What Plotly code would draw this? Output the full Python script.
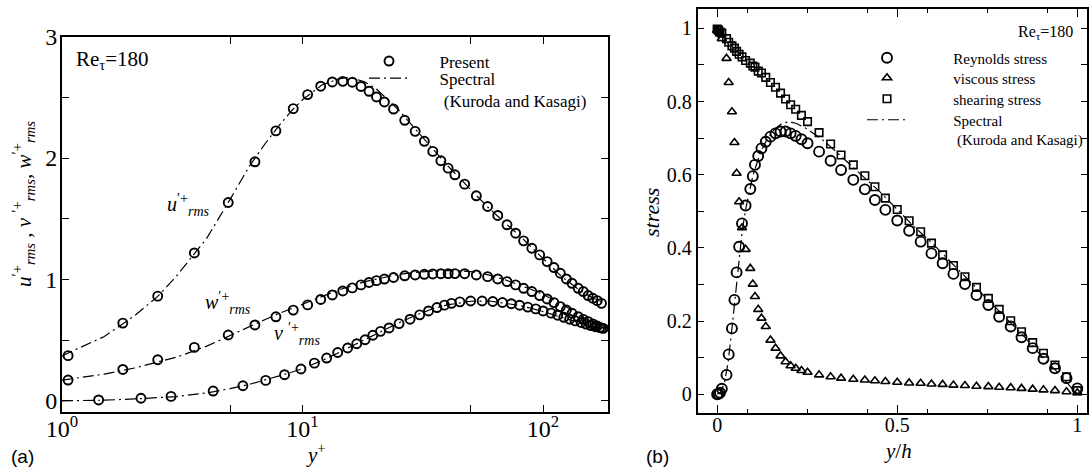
import plotly.graph_objects as go

W, H = 1091, 467
SERIF = "Liberation Serif"
SANS = "Liberation Sans"

# ---------------- Panel (a): rms velocity fluctuations ----------------
yplus_c = [1.06, 1.79, 2.50, 3.55, 4.91, 6.34, 7.75, 9.15, 10.5, 11.9, 13.3, 14.7, 16.1, 17.5,
           18.9, 20.3, 21.9, 23.9, 26.6, 29.4, 32.1, 34.8, 37.6, 40.3, 43.0, 47.2, 52.8, 58.8,
           64.8, 70.8, 76.9, 83.0, 89.8, 96.8, 104, 111, 118, 125, 132, 140, 147, 154, 161, 168, 175]
u_rms = [0.372, 0.640, 0.862, 1.218, 1.634, 1.969, 2.224, 2.407, 2.523, 2.592, 2.627, 2.632, 2.625,
         2.590, 2.550, 2.503, 2.462, 2.404, 2.311, 2.220, 2.138, 2.055, 1.978, 1.917, 1.862, 1.785,
         1.689, 1.601, 1.527, 1.450, 1.381, 1.318, 1.257, 1.202, 1.147, 1.098, 1.051, 1.004, 0.968,
         0.927, 0.900, 0.867, 0.845, 0.825, 0.803]
w_rms = [0.171, 0.258, 0.338, 0.440, 0.542, 0.625, 0.692, 0.747, 0.790, 0.835, 0.872, 0.905, 0.930,
         0.955, 0.975, 0.990, 1.003, 1.016, 1.030, 1.037, 1.042, 1.045, 1.047, 1.048, 1.048, 1.047,
         1.037, 1.023, 1.004, 0.982, 0.955, 0.927, 0.900, 0.867, 0.839, 0.809, 0.776, 0.748, 0.721,
         0.693, 0.671, 0.652, 0.633, 0.616, 0.600]
yplus_f = [1.42, 2.13, 2.84, 4.25, 5.65, 7.03, 8.42, 9.85, 11.2, 12.6, 14.0, 15.4, 16.8, 18.2, 19.6,
           21.1, 22.9, 25.2, 28.0, 30.7, 33.4, 36.2, 38.9, 41.6, 45.1, 50.0, 55.8, 61.8, 67.8, 73.8,
           79.9, 86.4, 93.3, 100, 108, 115, 122, 129, 136, 144, 151, 158, 165, 172, 178]
v_rms = [0.007, 0.021, 0.036, 0.080, 0.124, 0.168, 0.215, 0.262, 0.310, 0.352, 0.398, 0.435, 0.470,
         0.503, 0.540, 0.572, 0.600, 0.636, 0.672, 0.708, 0.740, 0.768, 0.788, 0.803, 0.815, 0.822,
         0.822, 0.818, 0.810, 0.800, 0.787, 0.772, 0.757, 0.740, 0.722, 0.705, 0.688, 0.672, 0.658,
         0.645, 0.632, 0.620, 0.610, 0.603, 0.597]

spec_yplus = [1.0, 1.5, 2.0, 2.5, 3.0, 4.0, 5.0, 6.0, 7.0, 8.0, 9.0, 10, 12, 14, 15, 16, 18, 20, 25,
              30, 35, 40, 50, 60, 70, 80, 90, 100, 120, 140, 160, 178]
spec_u = [0.37, 0.53, 0.70, 0.86, 1.03, 1.34, 1.66, 1.93, 2.12, 2.27, 2.39, 2.48, 2.60, 2.65, 2.66,
          2.66, 2.63, 2.58, 2.40, 2.22, 2.07, 1.94, 1.74, 1.58, 1.46, 1.36, 1.26, 1.17, 1.02, 0.92,
          0.85, 0.81]
spec_w = [0.17, 0.22, 0.27, 0.32, 0.36, 0.45, 0.54, 0.61, 0.67, 0.72, 0.76, 0.80, 0.86, 0.91, 0.93,
          0.95, 0.98, 1.00, 1.04, 1.06, 1.07, 1.075, 1.065, 1.035, 0.995, 0.955, 0.915, 0.875,
          0.795, 0.715, 0.645, 0.600]
spec_v = [0.000, 0.005, 0.015, 0.025, 0.035, 0.065, 0.100, 0.135, 0.170, 0.205, 0.235, 0.265, 0.330,
          0.390, 0.420, 0.450, 0.500, 0.550, 0.640, 0.710, 0.760, 0.790, 0.820, 0.822, 0.805, 0.785,
          0.760, 0.735, 0.685, 0.645, 0.612, 0.598]

# ---------------- Panel (b): stress balance ----------------
y_h = [0.000, 0.004, 0.008, 0.013, 0.026, 0.032, 0.041, 0.048, 0.054, 0.061, 0.069, 0.079, 0.092,
       0.099, 0.105, 0.114, 0.123, 0.135, 0.148, 0.162, 0.176, 0.190, 0.204, 0.218, 0.234, 0.251,
       0.283, 0.315, 0.344, 0.378, 0.410, 0.438, 0.467, 0.500, 0.533, 0.565, 0.595, 0.626, 0.656,
       0.688, 0.720, 0.753, 0.783, 0.815, 0.845, 0.876, 0.906, 0.938, 0.970, 1.000]
reynolds = [0.000, 0.001, 0.004, 0.015, 0.053, 0.109, 0.180, 0.258, 0.333, 0.403, 0.467, 0.516,
            0.561, 0.596, 0.627, 0.651, 0.672, 0.690, 0.704, 0.713, 0.718, 0.718, 0.713, 0.706,
            0.697, 0.686, 0.663, 0.638, 0.613, 0.586, 0.560, 0.531, 0.504, 0.475, 0.447, 0.417,
            0.385, 0.358, 0.329, 0.301, 0.271, 0.244, 0.212, 0.185, 0.156, 0.126, 0.097, 0.071,
            0.044, 0.016]
viscous = [0.995, 0.990, 0.985, 0.972, 0.918, 0.852, 0.772, 0.688, 0.604, 0.526, 0.455, 0.396,
           0.344, 0.301, 0.267, 0.232, 0.208, 0.185, 0.148, 0.126, 0.105, 0.089, 0.078, 0.071,
           0.065, 0.060, 0.053, 0.048, 0.044, 0.041, 0.039, 0.037, 0.035, 0.033, 0.031, 0.030,
           0.028, 0.027, 0.025, 0.024, 0.022, 0.021, 0.019, 0.018, 0.016, 0.014, 0.012, 0.010,
           0.007, 0.004]
shearing = [0.998, 0.995, 0.990, 0.987, 0.972, 0.962, 0.952, 0.946, 0.937, 0.929, 0.922, 0.912,
            0.905, 0.897, 0.894, 0.883, 0.878, 0.866, 0.852, 0.839, 0.823, 0.807, 0.791, 0.779,
            0.762, 0.745, 0.715, 0.684, 0.654, 0.627, 0.597, 0.567, 0.536, 0.505, 0.474, 0.444,
            0.413, 0.381, 0.352, 0.321, 0.292, 0.262, 0.232, 0.201, 0.171, 0.141, 0.112, 0.080,
            0.048, 0.010]
spec_yh = [0.0, 0.01, 0.02, 0.03, 0.04, 0.05, 0.06, 0.07, 0.08, 0.09, 0.10, 0.12, 0.14, 0.16, 0.18,
           0.20, 0.22, 0.25, 0.30, 0.35, 0.40, 0.45, 0.50, 0.55, 0.60, 0.65, 0.70, 0.75, 0.80, 0.85,
           0.90, 0.95, 1.0]
spec_rey = [0.0, 0.006, 0.030, 0.085, 0.170, 0.270, 0.370, 0.450, 0.510, 0.560, 0.600, 0.660, 0.700,
            0.725, 0.740, 0.745, 0.740, 0.725, 0.690, 0.645, 0.600, 0.555, 0.505, 0.455, 0.410,
            0.360, 0.310, 0.260, 0.210, 0.160, 0.105, 0.055, 0.0]

left_yticks = [0, 1, 2, 3]
left_yticktext = ["0", "1", "2", "3"]
left_yminor = [0.5, 1.5, 2.5]
left_xticks = [1, 10, 100]
left_xticktext = ["10<sup>0</sup>", "10<sup>1</sup>", "10<sup>2</sup>"]
left_xminor = [5, 50]
right_yticks = [0, 0.2, 0.4, 0.6, 0.8, 1.0]
right_yticktext = ["0", "0.2", "0.4", "0.6", "0.8", "1"]
right_yminor = [0.1, 0.3, 0.5, 0.7, 0.9]
right_xticks = [0, 0.5, 1]
right_xticktext = ["0", "0.5", "1"]
right_xmid = [1/6, 2/6, 4/6, 5/6]
right_xminor = [1/12, 3/12, 5/12, 7/12, 9/12, 11/12]

NB = "\u00a0"
DASHDOT = "11px,4px,2px,4px"
BLACK = "black"

fig = go.Figure()

def circ(size=9):
    return dict(symbol="circle-open", size=size, color=BLACK, line=dict(width=1.9, color=BLACK))

left_spec_name = NB * 6 + "Spectral<br>" + NB * 7 + "(Kuroda and Kasagi)"
for ys, name, show in [(spec_u, left_spec_name, True), (spec_w, "", False), (spec_v, "", False)]:
    fig.add_trace(go.Scatter(x=spec_yplus, y=ys, mode="lines", name=name, showlegend=show,
                             legend="legend3",
                             line=dict(color=BLACK, width=1.2, dash=DASHDOT), xaxis="x", yaxis="y"))
fig.add_trace(go.Scatter(x=yplus_c, y=u_rms, mode="markers", name=NB * 6 + "Present", legend="legend",
                         marker=circ(), xaxis="x", yaxis="y"))
fig.add_trace(go.Scatter(x=yplus_c, y=w_rms, mode="markers", showlegend=False, marker=circ(), xaxis="x", yaxis="y"))
fig.add_trace(go.Scatter(x=yplus_f, y=v_rms, mode="markers", showlegend=False, marker=circ(), xaxis="x", yaxis="y"))

# right panel
RP = NB * 11
fig.add_trace(go.Scatter(x=spec_yh, y=spec_rey, mode="lines",
                         name=RP + "Spectral<br>" + RP + NB + "(Kuroda and Kasagi)",
                         legend="legend7",
                         line=dict(color=BLACK, width=1.2, dash=DASHDOT), xaxis="x2", yaxis="y2"))
fig.add_trace(go.Scatter(x=y_h, y=reynolds, mode="markers", name=RP + "Reynolds stress", legend="legend4",
                         marker=circ(10), xaxis="x2", yaxis="y2"))
fig.add_trace(go.Scatter(x=y_h, y=viscous, mode="markers", name=RP + "viscous stress", legend="legend5",
                         marker=dict(symbol="triangle-up-open", size=8, color=BLACK, line=dict(width=1.6)),
                         xaxis="x2", yaxis="y2"))
fig.add_trace(go.Scatter(x=y_h, y=shearing, mode="markers", name=RP + "shearing stress", legend="legend6",
                         marker=dict(symbol="square-open", size=7.5, color=BLACK, line=dict(width=1.6)),
                         xaxis="x2", yaxis="y2"))

def px(x):
    return x / W

def py(y):
    return 1 - y / H

def leg(x, top, size):
    return dict(x=px(x), y=py(top), xanchor="left", yanchor="top", bgcolor="rgba(0,0,0,0)",
                font=dict(size=size, family=SERIF), tracegroupgap=0, itemwidth=40, valign="top")

def minor(vals, length):
    return dict(tickmode="array", tickvals=vals, ticklen=length, ticks="inside",
                tickcolor=BLACK, tickwidth=1.3, showgrid=False)

axis_common = dict(showline=True, linecolor=BLACK, linewidth=1.8, mirror="allticks", ticks="inside",
                   tickcolor=BLACK, tickwidth=1.3, showgrid=False, zeroline=False, automargin=False,
                   tickmode="array")

fig.update_layout(
    template="none",
    width=W, height=H, margin=dict(l=0, r=0, t=0, b=0, pad=0, autoexpand=False),
    paper_bgcolor="white", plot_bgcolor="white",
    font=dict(family=SERIF, color=BLACK),
    xaxis=dict(axis_common, type="log", range=[0, 2.27], domain=[px(62), px(608)],
               tickvals=left_xticks, ticktext=left_xticktext, ticklen=7, ticklabelstandoff=-5,
               minor=minor(left_xminor, 7),
               tickfont=dict(size=24, family=SERIF), anchor="y"),
    yaxis=dict(axis_common, range=[-0.09, 3.0], domain=[py(411.7), py(36.7)],
               tickvals=left_yticks, ticktext=left_yticktext, ticklen=7, ticklabelstandoff=-2,
               minor=minor(left_yminor, 7),
               tickfont=dict(size=24, family=SERIF), anchor="x"),
    xaxis2=dict(axis_common, range=[-0.054, 1.026], domain=[px(697.7), px(1086.7)],
                tickvals=right_xticks, ticktext=right_xticktext, ticklen=8, ticklabelstandoff=-7,
                minor=minor(right_xminor, 4),
                tickfont=dict(size=20, family=SERIF), anchor="y2"),
    yaxis2=dict(axis_common, range=[-0.052, 1.052], domain=[py(413.3), py(9.3)],
                tickvals=right_yticks, ticktext=right_yticktext, ticklen=6,
                minor=minor(right_yminor, 6),
                tickfont=dict(size=20, family=SERIF), anchor="x2"),
    # invisible-label companion axis carrying the longer 1/6 ticks of panel (b)
    xaxis3=dict(showline=False, ticks="inside", ticklen=8, tickwidth=1.3, tickcolor=BLACK,
                mirror="allticks", showticklabels=False, showgrid=False, zeroline=False,
                automargin=False, tickmode="array", tickvals=right_xmid,
                range=[-0.054, 1.026], domain=[px(697.7), px(1086.7)], anchor="y2", overlaying="x2"),
    legend=leg(364, 43.5, 17),
    legend3=leg(364, 60.5, 17),
    legend4=leg(862, 41.5, 15),
    legend5=leg(862, 61.5, 15),
    legend6=leg(862, 82.5, 15),
    legend7=leg(862, 103.5, 15),
    showlegend=True,
)

ann = [
    dict(text="Re<sub>τ</sub>=180", x=px(74), y=py(60), xanchor="left",
         font=dict(size=21, family=SERIF)),
    dict(text="Re<sub>τ</sub>=180", x=px(1075), y=py(33), xanchor="right",
         font=dict(size=16, family=SERIF)),
    dict(text="<i>u</i><sup>′+</sup><sub><i>rms</i></sub>", x=px(188), y=py(205),
         font=dict(size=20, family=SERIF)),
    dict(text="<i>w</i><sup>′+</sup><sub><i>rms</i></sub>", x=px(228), y=py(303),
         font=dict(size=20, family=SERIF)),
    dict(text="<i>v</i> <sup>′+</sup><sub><i>rms</i></sub>", x=px(297), y=py(334),
         font=dict(size=20, family=SERIF)),
    dict(text="<i>u</i><sup>′+</sup><sub><i>rms</i></sub> , <i>v</i> <sup>′+</sup><sub><i>rms</i></sub>, <i>w</i><sup>′+</sup><sub><i>rms</i></sub>",
         x=px(24), y=py(204), textangle=-90, font=dict(size=21, family=SERIF)),
    dict(text="<i>y</i><sup>+</sup>", x=px(316), y=py(453), font=dict(size=21, family=SERIF)),
    dict(text="(a)", x=px(22), y=py(456), font=dict(size=19, family=SANS)),
    dict(text="<i>stress</i>", x=px(651), y=py(213), textangle=-90, font=dict(size=22, family=SERIF)),
    dict(text="<i>y</i>/<i>h</i>", x=px(898), y=py(451), font=dict(size=21, family=SERIF)),
    dict(text="(b)", x=px(657), y=py(456), font=dict(size=19, family=SANS)),
]
for a in ann:
    a.setdefault("xanchor", "center")
    a.update(xref="paper", yref="paper", showarrow=False, yanchor="middle")
    fig.add_annotation(**a)

fig.write_html("out.html", config={"displayModeBar": False},
               post_script="document.body.style.margin='0';")
